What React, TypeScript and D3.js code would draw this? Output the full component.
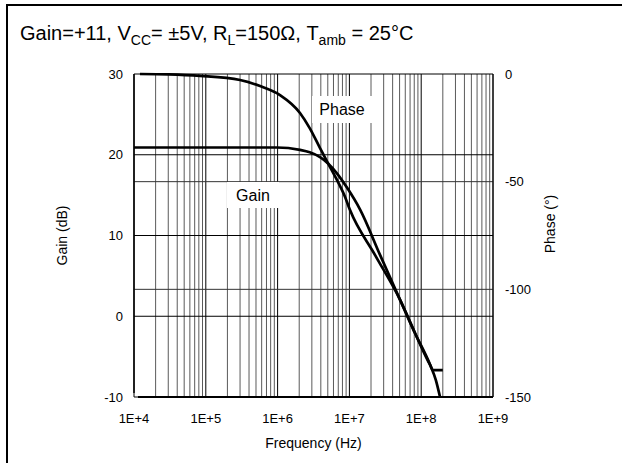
import React from "react";
import * as d3 from "d3";

// gain curve (dB) vs frequency (Hz)
const gainFreq = [1e4, 1e5, 9.8e5, 2.05e6, 2.8e6, 3.9e6, 5.0e6, 6.7e6, 9.3e6, 1.41e7, 2.67e7, 5.1e7, 8.2e7, 1.33e8, 1.6e8, 1.83e8];
const gainDb = [20.9, 20.9, 20.9, 20.6, 20.3, 19.7, 18.95, 17.7, 15.9, 13.2, 7.6, 2.0, -2.1, -6.0, -7.9, -10];

// phase curve (deg) vs frequency (Hz)
const phaseFreq = [1.21e4, 3e4, 8.3e4, 3.0e5, 5.7e5, 1.08e6, 2.05e6, 2.8e6, 3.9e6, 5.0e6, 6.7e6, 8.7e6, 1.02e7, 2.28e7, 5.1e7, 8.2e7, 1.33e8, 1.46e8, 2.0e8];
const phaseDeg = [0, -0.2, -0.9, -2.8, -5.6, -9.8, -18.1, -25.1, -34.4, -41.3, -49.2, -57.1, -63.2, -84.1, -105, -120.3, -135.1, -137.5, -137.5];

const gainTicks = [30, 20, 10, 0, -10];
const phaseTicks = [0, -50, -100, -150];
const freqTicks = [1e4, 1e5, 1e6, 1e7, 1e8, 1e9];
const freqLabels = ["1E+4", "1E+5", "1E+6", "1E+7", "1E+8", "1E+9"];

const W = 622;
const H = 463;
const L = 134, R = 493, T = 74, B = 397;
const FONT = "Liberation Sans, Arial, sans-serif";

const App = () => {
  const x = d3.scaleLog().domain([1e4, 1e9]).range([L, R]);
  const yG = d3.scaleLinear().domain([-10, 30]).range([B, T]);
  const yP = d3.scaleLinear().domain([-150, 0]).range([B, T]);

  const gainLine = d3
    .line<number>()
    .x((_, i) => x(gainFreq[i]))
    .y((d) => yG(d))
    .curve(d3.curveMonotoneX);
  const phaseLine = d3
    .line<number>()
    .x((_, i) => x(phaseFreq[i]))
    .y((d) => yP(d))
    .curve(d3.curveMonotoneX);

  const vGrid = x.ticks();
  const isMajor = (f: number) => Math.abs(Math.log10(f) - Math.round(Math.log10(f))) < 1e-6;

  return (
    <svg width={W} height={H} style={{ position: "absolute", left: 0, top: 0 }} fontFamily={FONT}>
      <rect x={0} y={0} width={W} height={H} fill="white" />
      {/* frame */}
      <line x1={6} x2={W} y1={5} y2={5} stroke="black" strokeWidth={2} />
      <line x1={7} x2={7} y1={4} y2={H} stroke="black" strokeWidth={2} />

      <text x={20} y={40} fontSize={20}>
        Gain=+11, V<tspan fontSize={14} dy={5}>CC</tspan>
        <tspan dy={-5}>= ±5V, R</tspan>
        <tspan fontSize={14} dy={5}>L</tspan>
        <tspan dy={-5}>=150Ω, T</tspan>
        <tspan fontSize={14} dy={5}>amb</tspan>
        <tspan dy={-5}> = 25°C</tspan>
      </text>

      {/* vertical grid */}
      {vGrid.map((f, i) => (
        <line
          key={"v" + i}
          x1={x(f)}
          x2={x(f)}
          y1={T}
          y2={B}
          stroke={isMajor(f) ? "black" : "#5a5a5a"}
          strokeWidth={1}
        />
      ))}
      {/* horizontal grid */}
      {gainTicks.map((g) => (
        <line key={"g" + g} x1={L} x2={R} y1={yG(g)} y2={yG(g)} stroke="black" strokeWidth={1} />
      ))}
      {phaseTicks.slice(1, 3).map((p) => (
        <line key={"p" + p} x1={L} x2={R} y1={yP(p)} y2={yP(p)} stroke="#333" strokeWidth={1} />
      ))}

      {/* axes */}
      <line x1={L} x2={L} y1={T} y2={B - 4} stroke="black" strokeWidth={1.5} />
      <line x1={L + 4} x2={R} y1={B} y2={B} stroke="black" strokeWidth={2} />
      <line x1={R} x2={R} y1={T} y2={B} stroke="black" strokeWidth={1} />

      {/* label boxes */}
      <rect x={227} y={182} width={52} height={26} fill="white" />
      <text x={253} y={201} fontSize={16} textAnchor="middle">Gain</text>
      <rect x={312} y={96} width={60} height={27} fill="white" />
      <text x={342} y={115} fontSize={16} textAnchor="middle">Phase</text>

      {/* curves */}
      <path d={gainLine(gainDb) ?? ""} fill="none" stroke="black" strokeWidth={2.7} />
      <path d={phaseLine(phaseDeg) ?? ""} fill="none" stroke="black" strokeWidth={2.7} />

      {/* tick labels */}
      {gainTicks.map((g) => (
        <text key={"gl" + g} x={123} y={yG(g) + 4.5} fontSize={13} textAnchor="end">{g}</text>
      ))}
      {phaseTicks.map((p) => (
        <text key={"pl" + p} x={505} y={yP(p) + 4.5} fontSize={13}>{p}</text>
      ))}
      {freqTicks.map((f, i) => (
        <text key={"fl" + i} x={x(f)} y={423} fontSize={13} textAnchor="middle">{freqLabels[i]}</text>
      ))}

      <text x={(L + R) / 2} y={448} fontSize={14} textAnchor="middle">Frequency (Hz)</text>
      <text transform={`translate(67, ${(T + B) / 2}) rotate(-90)`} fontSize={14} textAnchor="middle">Gain (dB)</text>
      <text transform={`translate(555, 224) rotate(-90)`} fontSize={14} textAnchor="middle">Phase (°)</text>
    </svg>
  );
};

export default App;
